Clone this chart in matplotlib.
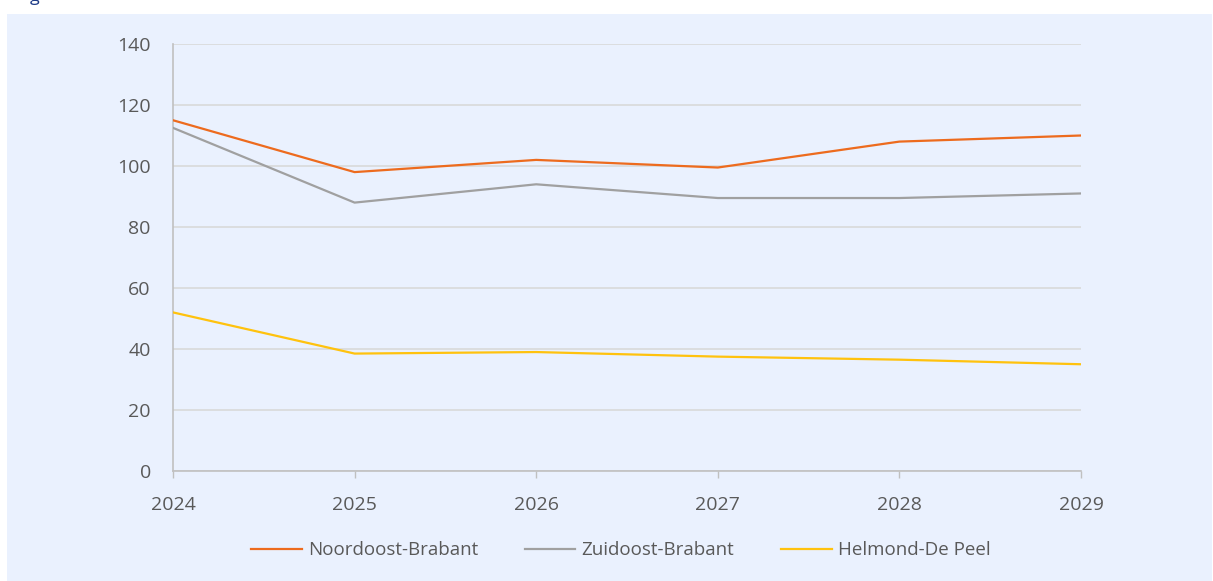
import matplotlib.pyplot as plt
from matplotlib.patches import Rectangle

years = [2024, 2025, 2026, 2027, 2028, 2029]
noordoost = [115, 98, 102, 99.5, 108, 110]
zuidoost = [112.5, 88, 94, 89.5, 89.5, 91]
helmond = [52, 38.5, 39, 37.5, 36.5, 35]

series_names = ['Noordoost-Brabant', 'Zuidoost-Brabant', 'Helmond-De Peel']
series_colors = ['#ED6B1E', '#A0A0A0', '#FFC20E']

plt.rcParams['font.family'] = ['Open Sans', 'DejaVu Sans']

W, H = 1213, 581
fig = plt.figure(figsize=(W / 100, H / 100), dpi=100)
fig.patch.set_facecolor('white')
bg = '#EAF1FE'
fig.patches.append(Rectangle((7 / W, 0), (W - 8) / W, (H - 14) / H,
                             transform=fig.transFigure, facecolor=bg,
                             edgecolor='none', zorder=-1))
# cut-off caption at the very top
fig.text(30 / W, 1 - 1 / H, 'g', color='#1F3C88', fontsize=13, va='baseline')

ax = fig.add_axes([173 / W, 1 - 471 / H, (1081 - 173) / W, (471 - 44) / H])
ax.set_facecolor(bg)

for vals, name, col in zip([noordoost, zuidoost, helmond], series_names, series_colors):
    ax.plot(years, vals, color=col, lw=1.6, label=name, zorder=3)

ax.set_xlim(2024, 2029)
ax.set_ylim(0, 140)
ax.set_yticks(range(0, 141, 20))
ax.set_xticks(years)
ax.grid(axis='y', color='#D9D9D9', lw=1.2)
ax.set_axisbelow(True)
for s in ['top', 'right']:
    ax.spines[s].set_visible(False)
for s in ['left', 'bottom']:
    ax.spines[s].set_color('#C0C0C0')
    ax.spines[s].set_linewidth(1.2)
ax.tick_params(axis='y', length=0, pad=16, labelsize=14, labelcolor='#595959')
ax.tick_params(axis='x', length=5, width=1, color='#C0C0C0', pad=13,
               labelsize=14, labelcolor='#595959')

leg = ax.legend(loc='upper center', bbox_to_anchor=(0.493, -0.125), ncol=3,
                frameon=False, fontsize=13.5, handlelength=2.7, handletextpad=0.32,
                columnspacing=2.5)
for t in leg.get_texts():
    t.set_color('#595959')

fig.savefig('out.png', dpi=100, facecolor=fig.get_facecolor())
